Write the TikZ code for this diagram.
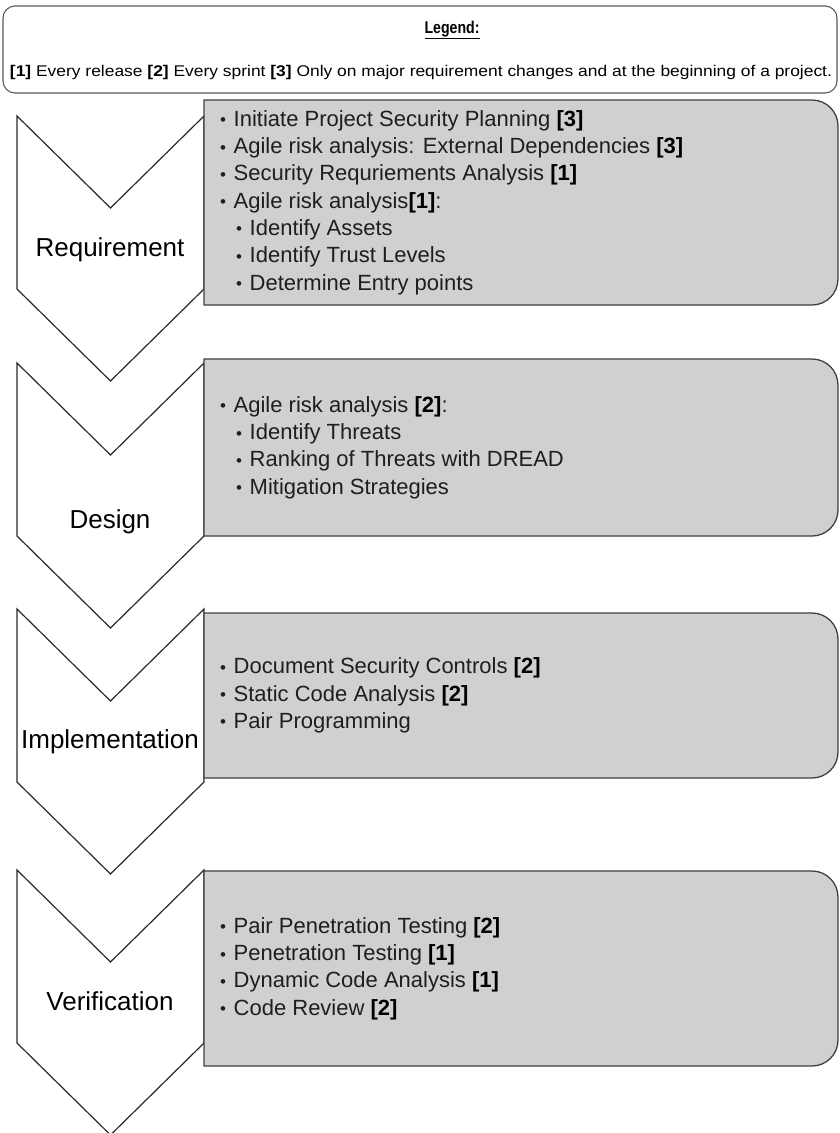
\documentclass[tikz,border=0pt]{standalone}
\usepackage{fontspec}
\setmainfont{Liberation Sans}
\definecolor{boxfill}{HTML}{D0D0D0}
\definecolor{boxline}{HTML}{404040}
\definecolor{chevline}{HTML}{2A2A2A}
\definecolor{legline}{HTML}{5A5A5A}
\definecolor{bodytext}{HTML}{1E1E1E}
\newcommand\bul{\makebox[13.5pt][l]{\raisebox{0.5pt}{\fontsize{17}{17}\selectfont\textbullet}}}
\newcommand\subbul{\hspace*{16pt}\bul}
\newcommand\freq[1]{\textcolor{black}{\textbf{[#1]}}}
% one process chevron, top edge at y=#1 (pixels from the top)
\newcommand\chevron[1]{%
  \filldraw[chevstyle] (17,-#1) -- (110.5,-#1-92) -- (204,-#1) -- (204,-#1-173)
    -- (110.5,-#1-265) -- (17,-#1-173) -- cycle;}
% grey activity box, square on the left, rounded on the right
\newcommand\phasebox[2]{%
  \filldraw[boxstyle] (204,-#1) -- (812,-#1) arc[start angle=90,end angle=0,radius=26]
    -- (838,-#2+26) arc[start angle=0,end angle=-90,radius=26] -- (204,-#2) -- cycle;}
\begin{document}
\begin{tikzpicture}[x=1pt,y=1pt,
  chevstyle/.style={draw=chevline,fill=white,line width=1.2pt,line join=miter},
  boxstyle/.style={draw=boxline,fill=boxfill,line width=1.3pt},
  phaselabel/.style={anchor=base,inner sep=0pt,text=black,font=\fontsize{26}{30}\selectfont},
  activities/.style={anchor=west,align=left,inner sep=0pt,text=bodytext,
    font=\fontsize{22}{27.3}\selectfont}]
\useasboundingbox (0,0) rectangle (840,-1133);
\fill[white] (0,0) rectangle (840,-1133);

% legend
\draw[legline,line width=1.1pt,rounded corners=12pt] (3,-6) rectangle (837,-93);
\node[inner sep=0pt] (legtitle) at (452,-30)
  {\resizebox{55pt}{\height}{\fontsize{17}{20}\selectfont\bfseries\underline{Legend:}}};
\node[inner sep=0pt] (legtext) at (421,-72)
  {\resizebox{822pt}{\height}{\fontsize{15.5}{18}\selectfont
   \textbf{[1]} Every release \textbf{[2]} Every sprint \textbf{[3]} Only on major requirement changes and at the beginning of a project.}};

% phases
\chevron{116}
\phasebox{100}{305}
\chevron{363}
\phasebox{359}{536}
\chevron{609}
\phasebox{613}{778}
\chevron{870}
\phasebox{871}{1066}

\node[phaselabel] (req) at (110,-256) {Requirement};
\node[phaselabel] (des) at (110,-528) {Design};
\node[phaselabel] (imp) at (110,-748) {Implementation};
\node[phaselabel] (ver) at (110,-1010) {Verification};

\node[activities] (reqact) at (220,-202.5) {%
  \bul Initiate Project Security Planning \freq{3}\\
  \bul Agile risk analysis: External Dependencies \freq{3}\\
  \bul Security Requriements Analysis \freq{1}\\
  \bul Agile risk analysis\freq{1}:\\
  \subbul Identify Assets\\
  \subbul Identify Trust Levels\\
  \subbul Determine Entry points};
\node[activities] (desact) at (220,-447.5) {%
  \bul Agile risk analysis \freq{2}:\\
  \subbul Identify Threats\\
  \subbul Ranking of Threats with DREAD\\
  \subbul Mitigation Strategies};
\node[activities] (impact) at (220,-695.5) {%
  \bul Document Security Controls \freq{2}\\
  \bul Static Code Analysis \freq{2}\\
  \bul Pair Programming};
\node[activities] (veract) at (220,-968.5) {%
  \bul Pair Penetration Testing \freq{2}\\
  \bul Penetration Testing \freq{1}\\
  \bul Dynamic Code Analysis \freq{1}\\
  \bul Code Review \freq{2}};
\end{tikzpicture}
\end{document}
